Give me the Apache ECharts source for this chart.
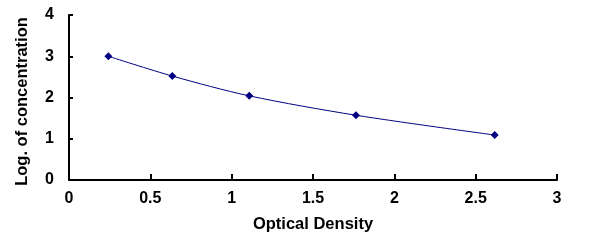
<!DOCTYPE html>
<html>
<head>
<meta charset="utf-8">
<script src="https://cdn.jsdelivr.net/npm/echarts@6/dist/echarts.min.js"></script>
<style>
html, body { margin: 0; padding: 0; background: #fff; }
#chart { width: 604px; height: 242px; }
</style>
</head>
<body>
<div id="chart"></div>
<script>
var xValues = [0.242, 0.635, 1.108, 1.764, 2.617];
var yValues = [3.0, 2.52, 2.04, 1.57, 1.09];
var xTicks = [0, 0.5, 1, 1.5, 2, 2.5, 3];
var yTicks = [0, 1, 2, 3, 4];

var pts = [];
for (var i = 0; i < xValues.length; i++) {
    pts.push([xValues[i], yValues[i]]);
}

var myChart = echarts.init(document.getElementById("chart"), null, {renderer: 'canvas'});
var font = '"Liberation Sans", Arial, sans-serif';

var option = {
    animation: false,
    grid: {
        left: 69,
        right: 47,
        top: 15,
        bottom: 62
    },
    xAxis: {
        type: 'value',
        min: xTicks[0],
        max: xTicks[xTicks.length - 1],
        interval: 0.5,
        name: 'Optical Density',
        nameLocation: 'middle',
        nameGap: 36,
        nameTextStyle: {color: '#000', fontWeight: 'bold', fontSize: 16.5, fontFamily: font},
        axisLine: {lineStyle: {color: '#000', width: 2}},
        axisTick: {inside: true, length: 6, lineStyle: {color: '#000', width: 2}},
        axisLabel: {color: '#000', fontWeight: 'bold', fontSize: 16, fontFamily: font, margin: 11},
        splitLine: {show: false}
    },
    yAxis: {
        type: 'value',
        min: yTicks[0],
        max: yTicks[yTicks.length - 1],
        interval: 1,
        name: 'Log. of concentration',
        nameLocation: 'middle',
        nameGap: 38,
        nameTextStyle: {color: '#000', fontWeight: 'bold', fontSize: 16.5, fontFamily: font, padding: [0, 8, 0, 0]},
        axisLine: {lineStyle: {color: '#000', width: 2}},
        axisTick: {inside: true, length: 4, lineStyle: {color: '#000', width: 2}},
        axisLabel: {color: '#000', fontWeight: 'bold', fontSize: 16, fontFamily: font, margin: 15},
        splitLine: {show: false}
    },
    series: [
        {
            type: 'line',
            data: pts,
            smooth: 0.3,
            symbol: 'diamond',
            symbolSize: 8,
            lineStyle: {color: '#000080', width: 1},
            itemStyle: {color: '#000080'}
        }
    ]
};

myChart.setOption(option);
</script>
</body>
</html>
